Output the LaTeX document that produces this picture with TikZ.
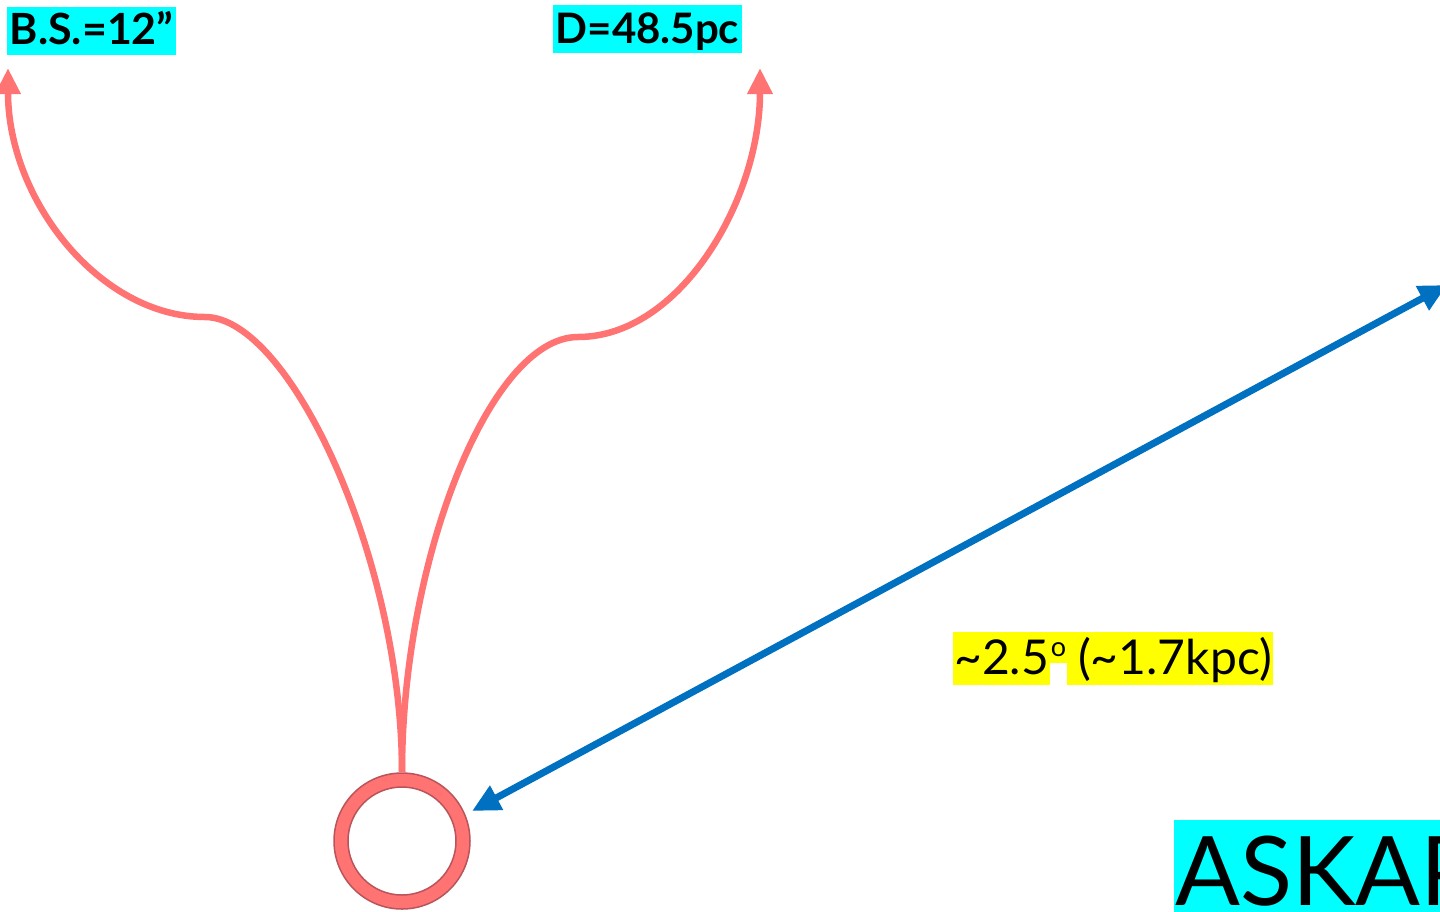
\documentclass[tikz,border=0pt]{standalone}
\usepackage{fontspec}
\setmainfont{Lato}
\usetikzlibrary{arrows.meta}
\definecolor{salmon}{HTML}{FF7373}
\definecolor{ringedge}{HTML}{B9545A}
\definecolor{arrowblue}{HTML}{0070C0}
\definecolor{hlcyan}{HTML}{00FFFF}
\definecolor{hlyellow}{HTML}{FFFF00}
\tikzset{
  redcurve/.style={draw=salmon, line width=6.5pt, -{Triangle[length=26pt,width=24pt]}},
  bluearrow/.style={draw=arrowblue, line width=7pt, {Triangle[length=28pt,width=26pt]}-{Triangle[length=28pt,width=26pt]}},
  cyanlabel/.style={fill=hlcyan, inner sep=0pt, inner xsep=2.5pt, anchor=base west, font=\fontsize{43pt}{50pt}\selectfont\bfseries},
  ylwlabel/.style={fill=hlyellow, inner sep=0pt, inner xsep=1pt, anchor=base west, font=\fontsize{48pt}{56pt}\selectfont},
}
\begin{document}
\begin{tikzpicture}[x=1pt,y=-1pt]
\useasboundingbox (0,0) rectangle (1440,911);
\clip (0,0) rectangle (1440,911);

% labels
\node (bs) [cyanlabel, text height=37pt, text depth=11pt] at (7,44) {B.S.=12”};
\node (dd) [cyanlabel, text height=38pt, text depth=10pt, font=\fontsize{42pt}{50pt}\selectfont\bfseries] at (553,43) {D=48.5pc};

\node (ang) [ylwlabel, text height=42pt, text depth=11pt] at (953,674) {\textasciitilde 2.5};
\node (deg) [ylwlabel, inner xsep=0.5pt, text height=24pt, text depth=7pt, font=\fontsize{27pt}{30pt}\selectfont] at (ang.base east |- 0,656) {o};
\node (dist) [ylwlabel, text height=42pt, text depth=11pt] at (deg.base east |- 0,674) {\hspace*{10pt}(\textasciitilde 1.7kpc)};

\node (aska) [fill=hlcyan, inner sep=0pt, inner xsep=1pt, anchor=base west, text height=85pt, text depth=25pt, font=\fontsize{96pt}{120pt}\selectfont] at (1174,905) {ASKAP};

% source ring
\node (src) [circle, minimum size=136pt, inner sep=0pt, fill=salmon, draw=ringedge, line width=1.5pt] at (402,841) {};
\node (srcin) [circle, minimum size=108pt, inner sep=0pt, fill=white, draw=ringedge, line width=1.5pt] at (402,841) {};

% curve tips
\coordinate (tipL) at (8,68);
\coordinate (tipR) at (760,68);
\draw[redcurve] (src.north) .. controls (402,560) and (290,317) .. (205,317)
                 .. controls (100,317) and (8,200) .. (tipL);
\draw[redcurve] (src.north) .. controls (402,560) and (490,337) .. (578,337)
                 .. controls (680,337) and (760,200) .. (tipR);

% blue double arrow
\coordinate (bA) at (472,811);
\coordinate (bB) at (1447,285);
\draw[bluearrow] (bA) -- (bB);
\end{tikzpicture}
\end{document}
